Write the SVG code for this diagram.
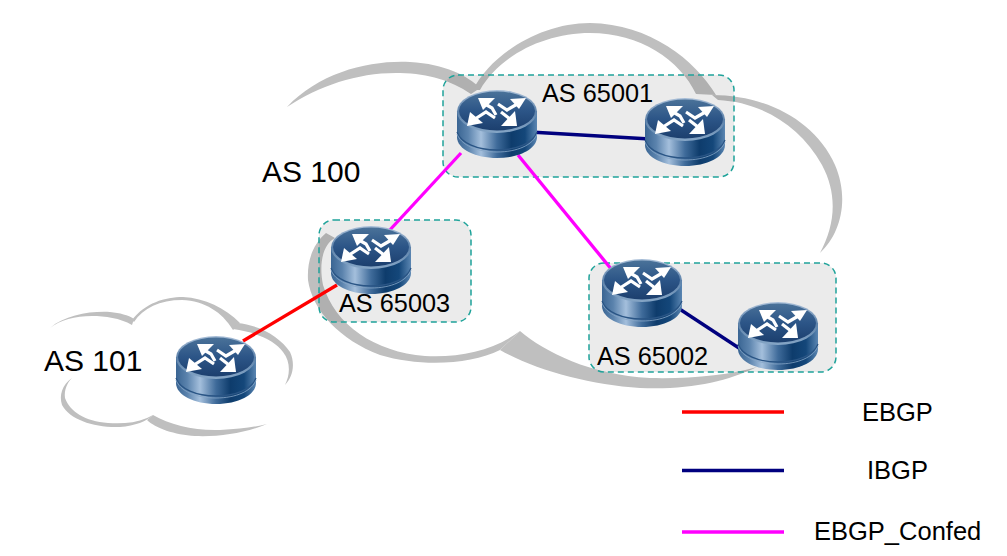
<svg xmlns="http://www.w3.org/2000/svg" width="1007" height="556" viewBox="0 0 1007 556">
<style>
text{font-family:"Liberation Sans",Arial,sans-serif;fill:#000}
.c{fill:#bfbfbf}
.as{fill:#000;fill-opacity:.08;stroke:#1fa39a;stroke-width:1.5;stroke-dasharray:6 4}
.l{font-size:25.300px}.b{font-size:30px}.k{font-size:25.500px}
.eb{stroke:#f00;stroke-width:3.300;fill:none}
.ib{stroke:#00007f;stroke-width:3.300;fill:none}
.co{stroke:#f0f;stroke-width:3.300;fill:none}
.ar{fill:none;stroke:#fff;stroke-width:3.200}
</style>
<defs>
<linearGradient id="side" x1="0" x2="1" y1="0" y2="0">
<stop offset="0" stop-color="#3a6593"/><stop offset=".14" stop-color="#5b83ad"/><stop offset=".3" stop-color="#a4bfdc"/><stop offset=".5" stop-color="#3f6b9a"/><stop offset=".68" stop-color="#0e3c6c"/><stop offset=".85" stop-color="#14477a"/><stop offset="1" stop-color="#5b86b2"/>
</linearGradient>
<linearGradient id="top" x1="0" x2="0" y1="0" y2="1">
<stop offset="0" stop-color="#4a7299"/><stop offset=".5" stop-color="#2c5587"/><stop offset="1" stop-color="#1c3f6e"/>
</linearGradient>
<linearGradient id="rim" x1="0" x2="0" y1="0" y2="1">
<stop offset="0" stop-color="#a9bfd8"/><stop offset=".5" stop-color="#5d82aa"/><stop offset="1" stop-color="#86a6c6"/>
</linearGradient>
<symbol id="router" viewBox="0 0 80 68" width="80" height="68" overflow="visible">
<path d="M0 21V47C0 59 18 68 40 68S80 59 80 47V21Z" fill="url(#side)"/>
<path d="M0 42C4 53 20 60 40 60S76 53 80 42" fill="none" stroke="#2a5585" stroke-width="1.3"/>
<path d="M0 44C4 55 20 62 40 62S76 55 80 44" fill="none" stroke="#86a6c6" stroke-width=".8"/>
<ellipse cx="40" cy="21.500" rx="40" ry="21.500" fill="url(#rim)"/>
<ellipse cx="40" cy="21" rx="38" ry="19.500" fill="url(#top)"/>
<polyline class="ar" points="41,14 50,20 62,13"/>
<polygon points="69,8 53,9 62,19" fill="#fff"/>
<polyline class="ar" points="28,14 35,18 39,25"/>
<polygon points="21,8 38,8 26,20" fill="#fff"/>
<polyline class="ar" points="18,29 29,22 38,28"/>
<polygon points="10,36 13,22 26,33" fill="#fff"/>
<polyline class="ar" points="53,29 44,22"/>
<polygon points="60,36 44,36 58,21" fill="#fff"/>
</symbol>
</defs>
<g id="cloud-as100">
<path class="c" d="M287 107C320 72 370 60 410 62C445 64 468 76 480 88L471 94C450 80 430 74 400 73C360 72 320 85 287 107Z"/>
<path class="c" d="M473 90C490 55 540 23 590 23C650 24 695 60 716 95L696 94C680 60 640 33 590 33C545 33 500 55 480 90Z"/>
<path class="c" d="M712 95C765 95 815 120 835 165C850 200 840 235 820 253C835 225 838 195 822 165C800 125 760 102 718 100Z"/>
<path class="c" d="M326 233C312 245 307 262 308 280C312 310 340 340 380 355C420 367 470 365 500 350L520 331C495 350 460 358 425 356C375 352 335 325 323 285C319 265 322 245 335 238Z"/>
<path class="c" d="M520 331C545 352 590 375 650 378C690 379 730 375 757 367C725 382 690 390 640 388C590 385 535 370 500 350Z"/>
</g>
<g id="cloud-as101">
<path class="c" d="M50 328C65 315 90 311 110 312C120 313 128 315 134 319L132 325C120 318 105 316 92 316C75 316 60 320 50 328Z"/>
<path class="c" d="M132 320C145 303 165 297 183 297C205 298 225 308 240 323L233 330C222 312 205 301 182 300C160 300 143 308 134 322Z"/>
<path class="c" d="M237 323C260 325 280 337 290 352C296 365 292 378 285 385C290 375 291 362 283 352C275 340 255 332 233 329Z"/>
<path class="c" d="M72 378C62 385 59 395 62 405C70 420 95 428 120 427C135 426 147 421 153 415L147 418C135 423 122 424 108 423C85 421 70 412 65 398C64 390 67 383 72 378Z"/>
<path class="c" d="M153 415C170 425 195 431 220 430C240 429 255 427 267 424C245 433 220 437 195 436C175 435 155 428 147 420Z"/>
</g>
<g id="as-65001"><rect class="as" x="443" y="75" width="291" height="102" rx="15"/><text class="l" x="542" y="102">AS 65001</text></g>
<g id="as-65003"><rect class="as" x="319" y="220" width="152" height="102" rx="15"/><text class="l" x="339" y="312">AS 65003</text></g>
<g id="as-65002"><rect class="as" x="589" y="263" width="247" height="109" rx="15"/><text class="l" x="597" y="365">AS 65002</text></g>
<g id="connectors">
<line class="eb" x1="243" y1="341" x2="337" y2="285"/>
<line class="ib" x1="530" y1="132" x2="650" y2="139"/>
<line class="ib" x1="675" y1="306" x2="745" y2="352"/>
<line class="co" x1="461" y1="153" x2="388" y2="232"/>
<line class="co" x1="518" y1="155" x2="612" y2="270"/>
</g>
<g id="r-65001a"><use href="#router" x="457" y="90"/></g>
<g id="r-65001b"><use href="#router" x="645" y="98"/></g>
<g id="r-65003"><use href="#router" x="331" y="226"/></g>
<g id="r-65002a"><use href="#router" x="602" y="259"/></g>
<g id="r-65002b"><use href="#router" x="738" y="302"/></g>
<g id="r-101"><use href="#router" x="176" y="336"/></g>
<text class="b" x="262" y="182">AS 100</text>
<text class="b" x="44" y="371">AS 101</text>
<g id="legend">
<line class="eb" x1="682" y1="412" x2="784" y2="412"/>
<line class="ib" x1="682" y1="470.500" x2="784" y2="470.500"/>
<line class="co" x1="682" y1="532" x2="784" y2="532"/>
<text class="k" x="862" y="421">EBGP</text>
<text class="k" x="867" y="479">IBGP</text>
<text class="k" x="814" y="540">EBGP_Confed</text>
</g>
</svg>
